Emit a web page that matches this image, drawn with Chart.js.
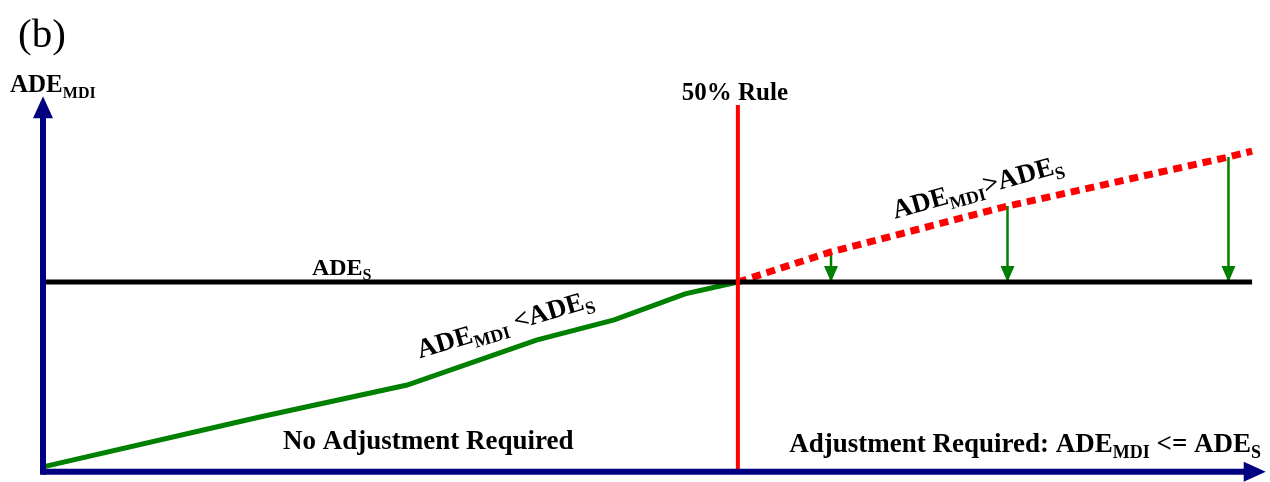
<!DOCTYPE html>
<html>
<head>
<meta charset="utf-8">
<script src="https://cdn.jsdelivr.net/npm/chart.js@4.4.1/dist/chart.umd.min.js"></script>
<style>
body { margin: 0; background: #fff; }
#wrap { width: 1270px; height: 482px; position: relative; }
</style>
</head>
<body>
<div id="wrap"><canvas id="ruleChart"></canvas></div>
<script>
// ADE_MDI below the 50% rule (green) and above it (red dotted)
const belowX = [0, 15.6, 26.2, 35.5, 41.1, 46.2, 50];
const belowY = [0.3, 13.7, 22.3, 34.4, 39.8, 46.8, 50];
const aboveX = [50, 56.7, 69.4, 85.3, 87];
const aboveY = [50, 58.1, 70.4, 83.6, 85.2];
const adeS = 50;
const adeSEnd = 87;
const ruleX = 50;
const ruleTop = 97.6;
const adjustIdx = [1, 2, 3];   // points on the red curve with down arrows
const axisY = -1;
const xMax = 88, yMax = 100;

const navy = '#000080';
const serif = '"Liberation Serif", "Times New Roman", serif';

function pts(xs, ys) {
    return xs.map((x, i) => ({ x: x, y: ys[i] }));
}

// arrow heads drawn right after their own line
const arrowHeads = {
    id: 'arrowHeads',
    afterDatasetDraw(chart, args) {
        const ds = chart.data.datasets[args.index];
        if (!ds.head) return;
        const p = args.meta.data;
        const a = p[p.length - 2], b = p[p.length - 1];
        const ang = Math.atan2(b.y - a.y, b.x - a.x);
        const ux = Math.cos(ang), uy = Math.sin(ang);
        const h = ds.head;
        const tx = b.x + ux * h.ext, ty = b.y + uy * h.ext;
        const bx = tx - ux * h.len, by = ty - uy * h.len;
        const ctx = chart.ctx;
        ctx.save();
        ctx.fillStyle = ds.borderColor;
        ctx.beginPath();
        ctx.moveTo(tx, ty);
        ctx.lineTo(bx - uy * h.w / 2, by + ux * h.w / 2);
        ctx.lineTo(bx + uy * h.w / 2, by - ux * h.w / 2);
        ctx.closePath();
        ctx.fill();
        ctx.restore();
    }
};

// text with subscripts
const notes = [
    { parts: [['(b)']], px: 18, py: 47, size: 41, weight: 'normal' },
    { parts: [['ADE'], ['MDI', 1]], px: 10, py: 92, size: 25 },
    { parts: [['50% Rule']], x: ruleX, py: 100, size: 25, align: 'center', dx: -3 },
    { parts: [['ADE'], ['S', 1]], x: 19.35, y: 51.9, size: 24 },
    { parts: [['ADE'], ['MDI', 1], [' <ADE'], ['S', 1]], x: 27.1, y: 29.5, size: 27, angle: -16.5 },
    { parts: [['ADE'], ['MDI', 1], ['>ADE'], ['S', 1]], x: 61.3, y: 67.0, size: 27, angle: -15.5 },
    { parts: [['No Adjustment Required']], x: 17.27, y: 5.1, size: 27 },
    { parts: [['Adjustment Required: ADE'], ['MDI', 1], [' <= ADE'], ['S', 1]], x: 53.7, y: 4.4, size: 27 }
];

const textNotes = {
    id: 'textNotes',
    afterDraw(chart) {
        const ctx = chart.ctx;
        const xs = chart.scales.x, ys = chart.scales.y;
        notes.forEach(n => {
            const weight = n.weight || 'bold';
            const sub = Math.round(n.size * 0.65);
            const fonts = [weight + ' ' + n.size + 'px ' + serif, weight + ' ' + sub + 'px ' + serif];
            let total = 0;
            n.parts.forEach(p => { ctx.font = fonts[p[1] ? 1 : 0]; total += ctx.measureText(p[0]).width; });
            let x = n.px !== undefined ? n.px : xs.getPixelForValue(n.x);
            let y = n.py !== undefined ? n.py : ys.getPixelForValue(n.y);
            x += n.dx || 0;
            ctx.save();
            ctx.translate(x, y);
            if (n.angle) ctx.rotate(n.angle * Math.PI / 180);
            ctx.fillStyle = '#000';
            ctx.textBaseline = 'alphabetic';
            ctx.textAlign = 'left';
            let cx = n.align === 'center' ? -total / 2 : 0;
            n.parts.forEach(p => {
                ctx.font = fonts[p[1] ? 1 : 0];
                ctx.fillText(p[0], cx, p[1] ? n.size * 0.22 : 0);
                cx += ctx.measureText(p[0]).width;
            });
            ctx.restore();
        });
    }
};

const datasets = [];
adjustIdx.forEach(i => {
    datasets.push({
        data: pts([aboveX[i], aboveX[i]], [aboveY[i], adeS]),
        borderColor: '#008000', borderWidth: 2.5, order: 6,
        head: { len: 16, w: 14, ext: 0 }
    });
});
datasets.push({
    data: pts(belowX, belowY),
    borderColor: '#008000', borderWidth: 5, order: 5
});
datasets.push({
    data: pts(aboveX, aboveY),
    borderColor: '#ff0000', borderWidth: 7, borderDash: [9, 6], order: 4
});
datasets.push({
    data: pts([0, adeSEnd], [adeS, adeS]),
    borderColor: '#000000', borderWidth: 5, order: 3
});
datasets.push({
    data: pts([ruleX, ruleX], [axisY - 0.6, ruleTop]),
    borderColor: '#ff0000', borderWidth: 4, order: 2
});
datasets.push({
    data: pts([0, 0], [axisY - 0.8, 96.2]),
    borderColor: navy, borderWidth: 6, order: 1,
    head: { len: 22, w: 20, ext: 14 }
});
datasets.push({
    data: pts([0, 86.9], [axisY, axisY]),
    borderColor: navy, borderWidth: 6, order: 1,
    head: { len: 22, w: 20, ext: 15 }
});
datasets.forEach(d => {
    d.showLine = true;
    d.pointRadius = 0;
    d.tension = 0;
    d.clip = false;
    d.fill = false;
    d.borderCapStyle = 'butt';
});

function generateRuleChart() {
    const ctx = document.getElementById('ruleChart').getContext('2d');
    new Chart(ctx, {
        type: 'scatter',
        data: { datasets: datasets },
        options: {
            responsive: true,
            maintainAspectRatio: false,
            animation: false,
            layout: { padding: { left: 43, right: 4, top: 96, bottom: 14 } },
            scales: {
                x: { type: 'linear', min: 0, max: xMax, display: false },
                y: { type: 'linear', min: 0, max: yMax, display: false }
            },
            plugins: {
                legend: { display: false },
                tooltip: { enabled: false }
            }
        },
        plugins: [arrowHeads, textNotes]
    });
}

document.addEventListener("DOMContentLoaded", () => {
    generateRuleChart();
});
</script>
</body>
</html>
